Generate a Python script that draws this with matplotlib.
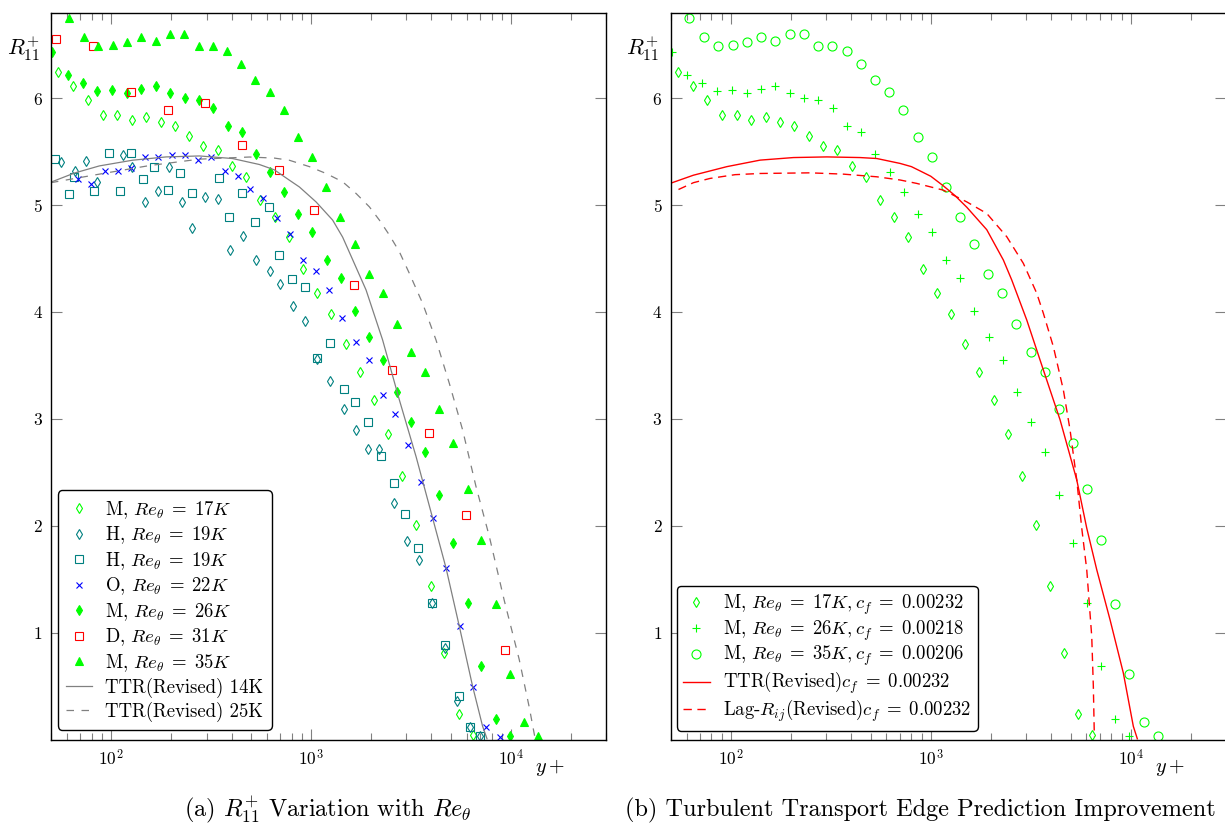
import matplotlib
matplotlib.use("Agg")
import matplotlib.pyplot as plt

plt.rcParams['font.family'] = 'serif'
plt.rcParams['font.serif'] = ['cmr10']
plt.rcParams['mathtext.fontset'] = 'cm'
plt.rcParams['axes.unicode_minus'] = False
plt.rcParams['axes.formatter.use_mathtext'] = True

# --- data (y+ , R11+) ---
m17_x = [54.3, 64.6, 76.4, 90.8, 107.2, 126.7, 149.6, 177, 208, 245.5, 289.4, 341.2, 402.7, 473.2,
         557.9, 657.7, 772.7, 910, 1071, 1264, 1489, 1750, 2065, 2427, 2861, 3350, 3963, 4640, 5470, 6427]
m17_y = [6.25, 6.11, 5.98, 5.84, 5.84, 5.80, 5.82, 5.78, 5.74, 5.65, 5.55, 5.52, 5.37, 5.26,
         5.05, 4.89, 4.70, 4.40, 4.18, 3.98, 3.70, 3.44, 3.18, 2.86, 2.47, 2.01, 1.44, 0.81, 0.24, 0.04]

h19d_x = [56.2, 66.1, 75.0, 84.7, 114.3, 127.4, 148.4, 171, 194.1, 226.5, 254.1, 296.1, 344, 395, 455,
          528.4, 620.9, 702.4, 812.8, 928, 1067, 1249, 1462, 1679, 1919, 2196, 2588, 3006, 3467, 4027,
          4667, 5389, 6237, 6998]
h19d_y = [5.40, 5.32, 5.41, 5.22, 5.47, 5.36, 5.03, 5.13, 5.36, 5.03, 4.79, 5.08, 5.06, 4.58, 4.71,
          4.49, 4.38, 4.26, 4.06, 3.92, 3.56, 3.35, 3.09, 2.90, 2.72, 2.72, 2.21, 1.86, 1.68, 1.28,
          0.86, 0.36, 0.12, 0.03]

h19s_x = [52.2, 61.9, 65.5, 81.8, 98.1, 110.4, 125.9, 144.5, 164.6, 193.4, 222.1, 252.9, 345.1, 390.5,
          451.9, 522.4, 613.8, 694.3, 806.3, 936.4, 1067, 1239, 1455, 1652, 1919, 2228, 2594, 2962,
          3440, 4027, 4677, 5515, 6237, 6998]
h19s_y = [5.43, 5.10, 5.26, 5.13, 5.49, 5.13, 5.49, 5.24, 5.36, 5.14, 5.30, 5.11, 5.25, 4.89,
          5.11, 4.84, 4.98, 4.53, 4.31, 4.23, 3.57, 3.71, 3.28, 3.16, 2.97, 2.65, 2.40, 2.11,
          1.79, 1.28, 0.88, 0.41, 0.12, 0.03]

o22_x = [68.4, 79.4, 93.7, 108.8, 125.3, 147.9, 172.4, 202.5, 234.4, 273.3, 316.2, 369.8, 429.5, 495.5,
         575.4, 678.5, 788, 910, 1059, 1225, 1429, 1685, 1957, 2280, 2630, 3055, 3561, 4088, 4732,
         5559, 6457, 7499, 8770]
o22_y = [5.24, 5.20, 5.32, 5.32, 5.35, 5.45, 5.45, 5.47, 5.47, 5.42, 5.45, 5.32, 5.27, 5.15,
         5.07, 4.88, 4.73, 4.49, 4.38, 4.21, 3.94, 3.72, 3.55, 3.22, 3.05, 2.76, 2.41, 2.07, 1.60,
         1.06, 0.49, 0.12, 0.02]

m26_x = [50.5, 60.5, 72.1, 85.4, 101.5, 120.2, 141.8, 167.1, 198, 233.4, 274.2, 324.8, 382.8, 449.8,
         528.4, 623.7, 735.6, 864.2, 1015, 1197, 1406, 1652, 1950, 2291, 2692, 3174, 3729, 4381, 5147,
         6067, 7105, 8375, 9840]
m26_y = [6.43, 6.22, 6.14, 6.07, 6.08, 6.05, 6.09, 6.11, 6.05, 6.00, 5.98, 5.91, 5.74, 5.68,
         5.48, 5.31, 5.12, 4.92, 4.75, 4.49, 4.32, 4.01, 3.77, 3.55, 3.25, 2.97, 2.69, 2.29, 1.84,
         1.28, 0.69, 0.19, 0.03]

d31_x = [53.1, 81.6, 125.9, 191.9, 296.1, 449.8, 688.7, 1039, 1633, 2550, 3873, 5929, 9290]
d31_y = [6.55, 6.49, 6.06, 5.89, 5.96, 5.56, 5.33, 4.95, 4.25, 3.46, 2.87, 2.10, 0.84]

m35_x = [61.4, 73.0, 86.1, 101.9, 120.2, 141.8, 167.1, 197.2, 232.6, 274.2, 322.2, 380.2, 448.3, 526.6,
         620.9, 729.5, 861, 1012, 1193, 1401, 1652, 1941, 2280, 2679, 3162, 3715, 4381, 5147, 6067,
         7105, 8375, 9840, 11614, 13646]
m35_y = [6.75, 6.57, 6.49, 6.50, 6.53, 6.57, 6.54, 6.60, 6.60, 6.49, 6.49, 6.44, 6.32, 6.17,
         6.06, 5.89, 5.64, 5.45, 5.17, 4.89, 4.64, 4.36, 4.18, 3.89, 3.63, 3.44, 3.09, 2.77, 2.34,
         1.87, 1.27, 0.61, 0.16, 0.03]

# model curves
ttr14_x = [50, 65.5, 87.4, 127.8, 188.4, 276.4, 404.3, 551.4, 655.4, 778, 874, 1059, 1282, 1439, 1614,
           1884, 2280, 2764, 3350, 4055, 4732, 5515, 6427, 7211, 7586]
ttr14_y = [5.215, 5.30, 5.367, 5.42, 5.451, 5.46, 5.436, 5.38, 5.33, 5.234, 5.17, 5.03, 4.86, 4.70, 4.49,
           4.206, 3.738, 3.178, 2.648, 2.072, 1.605, 1.059, 0.498, 0.124, 0.007]

ttr25_x = [50, 87.4, 155.4, 276.4, 491.4, 655.4, 778, 874, 981, 1189, 1439, 1679, 1957, 2196, 2464,
           2764, 3101, 3614, 4217, 4914, 5728, 6683, 7791, 9257, 10990, 12346, 13230]
ttr25_y = [5.21, 5.29, 5.37, 5.43, 5.45, 5.44, 5.42, 5.39, 5.36, 5.296, 5.218, 5.109, 4.984, 4.860, 4.72,
           4.564, 4.362, 4.081, 3.738, 3.333, 2.897, 2.367, 1.90, 1.30, 0.75, 0.30, 0.0]

ttrcf_x = [50.9, 65, 95.5, 140.1, 205.6, 302, 443, 537, 702.4, 800, 884, 1000, 1156, 1320, 1514, 1905,
           2307, 2541, 3020, 3656, 4432, 5370, 6026, 6761, 7880, 9183, 10304, 10790]
ttrcf_y = [5.21, 5.28, 5.36, 5.421, 5.445, 5.451, 5.445, 5.436, 5.39, 5.36, 5.32, 5.27, 5.18, 5.09,
           4.98, 4.77, 4.486, 4.299, 3.925, 3.458, 2.991, 2.430, 1.978, 1.589, 1.121, 0.623, 0.124, 0.007]

lag_x = [54.7, 65, 78.8, 105.1, 140.1, 249.2, 364.4, 537, 702.4, 851, 1156, 1514, 1905, 2399, 2904,
         3388, 3656, 4102, 4603, 4972, 5370, 5689, 6026, 6383, 6502, 6577]
lag_y = [5.146, 5.21, 5.25, 5.285, 5.296, 5.302, 5.29, 5.265, 5.235, 5.203, 5.140, 5.03, 4.922, 4.704,
         4.455, 4.175, 3.988, 3.676, 3.271, 2.897, 2.430, 1.978, 1.589, 0.965, 0.498, 0.03]

GREEN = '#00ff00'
TEAL = '#008080'
GRAY = '#808080'

fig = plt.figure(figsize=(12.25, 8.27), dpi=100)
ax1 = fig.add_axes([0.0416, 0.1058, 0.4534, 0.8788])
ax2 = fig.add_axes([0.5475, 0.1058, 0.4534, 0.8788])


def style(ax):
    ax.set_xscale('log')
    ax.set_xlim(50, 30000)
    ax.set_ylim(0, 6.8)
    ax.set_yticks([1, 2, 3, 4, 5, 6])
    ax.tick_params(which='both', direction='in', top=True, right=True, color=GRAY, width=0.8,
                   labelsize=12.5)
    ax.tick_params(which='major', length=8, pad=6)
    ax.tick_params(which='minor', length=5)
    for s in ax.spines.values():
        s.set_linewidth(1.0)
    ax.text(-0.05, 0.95, r'$R_{11}^{+}$', transform=ax.transAxes, ha='center', va='center', fontsize=16)
    ax.text(0.898, -0.038, r'$y+$', transform=ax.transAxes, ha='center', va='center', fontsize=14.5)


def legend_style(leg):
    leg.get_frame().set_linewidth(1.0)
    leg.get_frame().set_boxstyle('round,pad=0,rounding_size=0.25')


ms = dict(linestyle='none', markeredgewidth=0.8)
eq = r'\;=\;'

# (a)
ax1.plot(m17_x, m17_y, marker='d', mfc='none', mec=GREEN, ms=5.5, label=r'M, $Re_{\theta}' + eq + '17K$', **ms)
ax1.plot(h19d_x, h19d_y, marker='d', mfc='none', mec=TEAL, ms=5.5, label=r'H, $Re_{\theta}' + eq + '19K$', **ms)
ax1.plot(h19s_x, h19s_y, marker='s', mfc='none', mec=TEAL, ms=6, label=r'H, $Re_{\theta}' + eq + '19K$', **ms)
ax1.plot(o22_x, o22_y, marker='x', color='blue', ms=4, label=r'O, $Re_{\theta}' + eq + '22K$', **ms)
ax1.plot(m26_x, m26_y, marker='d', color=GREEN, ms=5.5, label=r'M, $Re_{\theta}' + eq + '26K$', **ms)
ax1.plot(d31_x, d31_y, marker='s', mfc='none', mec='red', ms=6, label=r'D, $Re_{\theta}' + eq + '31K$', **ms)
ax1.plot(m35_x, m35_y, marker='^', color=GREEN, ms=5.5, label=r'M, $Re_{\theta}' + eq + '35K$', **ms)
ax1.plot(ttr14_x, ttr14_y, color=GRAY, lw=0.9, label='TTR(Revised) 14K')
ax1.plot(ttr25_x, ttr25_y, color=GRAY, lw=0.9, dashes=(6, 6), label='TTR(Revised) 25K')
style(ax1)
leg1 = ax1.legend(loc='lower left', bbox_to_anchor=(0.012, 0.013), borderaxespad=0, fontsize=13.5,
                  labelspacing=0.2, handlelength=1.4, handletextpad=0.7, borderpad=0.45,
                  fancybox=True, framealpha=1, edgecolor='black')
legend_style(leg1)

# (b)
ax2.plot(m17_x, m17_y, marker='d', mfc='none', mec=GREEN, ms=5.5,
         label=r'M, $Re_{\theta}' + eq + r'17K, c_f' + eq + '0.00232$', **ms)
ax2.plot(m26_x, m26_y, marker='+', color=GREEN, ms=6,
         label=r'M, $Re_{\theta}' + eq + r'26K, c_f' + eq + '0.00218$', **ms)
ax2.plot(m35_x, m35_y, marker='o', mfc='none', mec=GREEN, ms=6.5,
         label=r'M, $Re_{\theta}' + eq + r'35K, c_f' + eq + '0.00206$', **ms)
ax2.plot(ttrcf_x, ttrcf_y, color='red', lw=1.0, label=r'TTR(Revised)$c_f' + eq + '0.00232$')
ax2.plot(lag_x, lag_y, color='red', lw=1.0, dashes=(6, 4),
         label=r'Lag-$R_{ij}$(Revised)$c_f' + eq + '0.00232$')
style(ax2)
leg2 = ax2.legend(loc='lower left', bbox_to_anchor=(0.011, 0.012), borderaxespad=0, fontsize=13.5,
                  labelspacing=0.08, handlelength=1.4, handletextpad=0.7, borderpad=0.35,
                  fancybox=True, framealpha=1, edgecolor='black')
legend_style(leg2)

fig.text(0.268, 0.02, r'(a) $R_{11}^{+}$ Variation with $Re_{\theta}$', ha='center', va='center', fontsize=17.5)
fig.text(0.751, 0.02, '(b) Turbulent Transport Edge Prediction Improvement', ha='center', va='center',
         fontsize=17.5)

fig.savefig('out.png', dpi=100)
